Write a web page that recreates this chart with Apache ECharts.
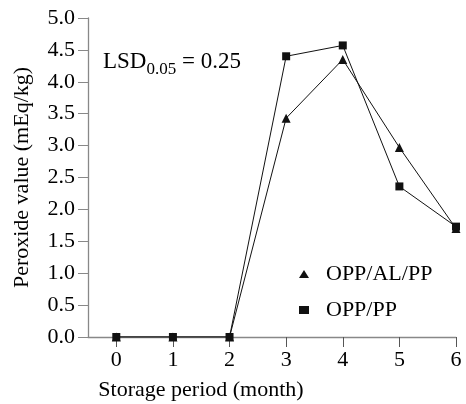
<!DOCTYPE html>
<html>
<head>
<meta charset="UTF-8">
<script src="https://cdn.jsdelivr.net/npm/echarts@6/dist/echarts.min.js"></script>
<style>
  body { margin: 0; padding: 0; background: #fff; }
  #main { width: 466px; height: 404px; }
</style>
</head>
<body>
<div id="main"></div>
<script>
var months = [0, 1, 2, 3, 4, 5, 6];
var oppAlPp = [0, 0, 0, 3.43, 4.35, 2.97, 1.70];
var oppPp = [0, 0, 0, 4.40, 4.57, 2.36, 1.73];
var yTicks = ['0.0', '0.5', '1.0', '1.5', '2.0', '2.5', '3.0', '3.5', '4.0', '4.5', '5.0'];

function pairs(vals) {
    return months.map(function (m, i) { return [m, vals[i]]; });
}

var font = 'Liberation Serif';
var fs = 22;
var chart = echarts.init(document.getElementById('main'));

chart.setOption({
    animation: false,
    backgroundColor: '#fff',
    textStyle: { fontFamily: font },
    grid: { left: 88, top: 18, right: 10, bottom: 67, outerBoundsMode: 'none' },
    legend: {
        orient: 'vertical',
        left: 294,
        top: 258,
        itemGap: 14,
        itemWidth: 10,
        itemHeight: 8,
        textStyle: { fontFamily: font, fontSize: fs, color: '#000', padding: [0, 0, 0, 12] },
        data: [
            { name: 'OPP/AL/PP', icon: 'triangle' },
            { name: 'OPP/PP', icon: 'rect' }
        ]
    },
    xAxis: {
        type: 'value',
        min: -0.5,
        max: 6,
        name: 'Storage period (month)',
        nameLocation: 'middle',
        nameGap: 42,
        nameTextStyle: { fontFamily: font, fontSize: fs, color: '#000', padding: [0, 142, 0, 0] },
        splitLine: { show: false },
        axisLine: { onZero: false, lineStyle: { color: '#888', width: 1.3 } },
        axisTick: { show: true, length: 10, customValues: months, lineStyle: { color: '#555' } },
        axisLabel: {
            customValues: months,
            fontFamily: font, fontSize: fs, color: '#000', margin: 12
        }
    },
    yAxis: {
        type: 'value',
        min: 0,
        max: 5,
        interval: 0.5,
        name: 'Peroxide value (mEq/kg)',
        nameLocation: 'middle',
        nameGap: 55,
        nameTextStyle: { fontFamily: font, fontSize: fs, color: '#000' },
        splitLine: { show: false },
        axisLine: { show: true, onZero: false, lineStyle: { color: '#888', width: 1.3 } },
        axisTick: { show: true, length: 10, lineStyle: { color: '#888' } },
        axisLabel: {
            fontFamily: font, fontSize: fs, color: '#000', margin: 13,
            formatter: function (v) { return yTicks[Math.round(v * 2)]; }
        }
    },
    graphic: [{
        type: 'text',
        left: 103,
        top: 50,
        style: {
            text: '{a|LSD}{s|0.05}{a| = 0.25}',
            rich: {
                a: { fontFamily: font, fontSize: 23, fill: '#000', verticalAlign: 'bottom' },
                s: { fontFamily: font, fontSize: 17, fill: '#000', verticalAlign: 'bottom', padding: [0, 0, -5, 0] }
            }
        }
    }],
    series: [{
        name: 'OPP/AL/PP',
        type: 'line',
        data: pairs(oppAlPp),
        symbol: 'triangle',
        symbolSize: 9,
        itemStyle: { color: '#111' },
        lineStyle: { color: '#111', width: 1 }
    }, {
        name: 'OPP/PP',
        type: 'line',
        data: pairs(oppPp),
        symbol: 'rect',
        symbolSize: 8,
        itemStyle: { color: '#111' },
        lineStyle: { color: '#111', width: 1 }
    }]
});
</script>
</body>
</html>
